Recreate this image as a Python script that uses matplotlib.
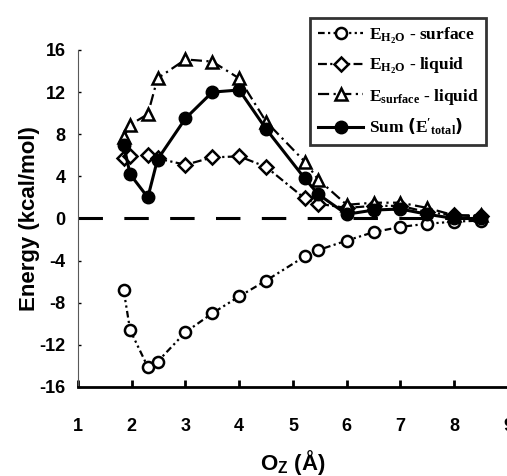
import matplotlib
matplotlib.use("Agg")
import matplotlib.pyplot as plt

# distance of O from surface (Angstrom)
oz = [1.85, 1.97, 2.3, 2.48, 3.0, 3.5, 4.0, 4.5, 5.22, 5.47, 6.0, 6.5, 7.0, 7.5, 8.0, 8.5]

# energies (kcal/mol)
e_h2o_surface = [-6.8, -10.6, -14.1, -13.6, -10.8, -9.0, -7.4, -5.9, -3.6, -3.0, -2.1, -1.3, -0.8, -0.5, -0.3, -0.2]
e_h2o_liquid = [5.7, 5.9, 6.0, 5.7, 5.1, 5.8, 5.9, 4.9, 1.9, 1.4, 1.0, 1.2, 1.2, 0.6, 0.3, 0.2]
e_surface_liquid = [7.7, 8.9, 9.9, 13.3, 15.1, 14.9, 13.3, 9.2, 5.4, 3.7, 1.3, 1.5, 1.5, 1.0, 0.3, 0.3]
e_total = [7.0, 4.2, 2.0, 5.6, 9.5, 12.0, 12.2, 8.5, 3.8, 2.3, 0.4, 0.8, 0.9, 0.4, 0.0, 0.0]

zero_x = [1, 8.5]
zero_y = [0, 0]

xticks = [1, 2, 3, 4, 5, 6, 7, 8, 9]
yticks = [-16, -12, -8, -4, 0, 4, 8, 12, 16]

labels = [r'$\mathregular{E_{H_2O}}$ - surface',
          r'$\mathregular{E_{H_2O}}$ - liquid',
          r'$\mathregular{E_{surface}}$ - liquid',
          r"Sum $\left(\mathregular{E'_{total}}\right)$"]

plt.rcParams['font.family'] = ['Liberation Sans', 'DejaVu Sans']
plt.rcParams['font.weight'] = 'bold'
plt.rcParams['axes.unicode_minus'] = False

fig = plt.figure(figsize=(5.07, 4.76), dpi=100)
ax = fig.add_axes([0.1538, 0.187, 0.848, 0.708])

# zero reference line
ax.plot(zero_x, zero_y, color='black', lw=2.2, dashes=(8, 7), dash_capstyle='butt', zorder=1)

ax.plot(oz, e_h2o_surface, color='black', lw=1.6, ls=(0, (3, 1.5, 1, 1.5, 1, 1.5)),
        marker='o', ms=8, mfc='white', mec='black', mew=1.8, label=labels[0], zorder=3)
ax.plot(oz, e_h2o_liquid, color='black', lw=1.6, ls=(0, (4, 1.5, 1, 1.5)),
        marker='D', ms=7, mfc='white', mec='black', mew=1.8, label=labels[1], zorder=3)
ax.plot(oz, e_surface_liquid, color='black', lw=1.6, ls=(0, (5, 2, 1, 2)),
        marker='^', ms=9, mfc='white', mec='black', mew=1.8, label=labels[2], zorder=3)
ax.plot(oz, e_total, color='black', lw=2.2, ls='-',
        marker='o', ms=9, mfc='black', mec='black', label=labels[3], zorder=4)

ax.set_xlim(1, 9)
ax.set_ylim(-16, 16)
ax.set_xticks(xticks)
ax.set_yticks(yticks)

ax.spines['top'].set_visible(False)
ax.spines['right'].set_visible(False)
ax.spines['left'].set_linewidth(0.8)
ax.spines['left'].set_color('0.35')
ax.spines['bottom'].set_linewidth(2)

ax.tick_params(axis='x', direction='in', length=5, width=2, pad=22, labelsize=13)
ax.tick_params(axis='y', direction='in', length=2, width=1, pad=9, labelsize=13)
for t in ax.get_xticklabels() + ax.get_yticklabels():
    t.set_fontweight('bold')

ax.set_xlabel(r'O$_\mathregular{Z}$ (Å)', fontsize=16, fontweight='bold')
ax.set_ylabel('Energy (kcal/mol)', fontsize=16, fontweight='bold')
ax.xaxis.set_label_coords(0.5, -0.225, transform=ax.transAxes)
ax.xaxis.label.set_verticalalignment('center')
ax.yaxis.set_label_coords(-0.112, 0.5, transform=ax.transAxes)
ax.yaxis.label.set_verticalalignment('center')

leg = ax.legend(loc='upper right', bbox_to_anchor=(0.976, 0.981), bbox_transform=fig.transFigure,
                frameon=True, fancybox=False, edgecolor='black', handlelength=2.6,
                borderpad=0.45, labelspacing=0.6, handletextpad=0.3,
                prop={'family': 'Liberation Serif', 'size': 12.5})
leg.get_frame().set_linewidth(2)

fig.savefig('out.png', dpi=100)
